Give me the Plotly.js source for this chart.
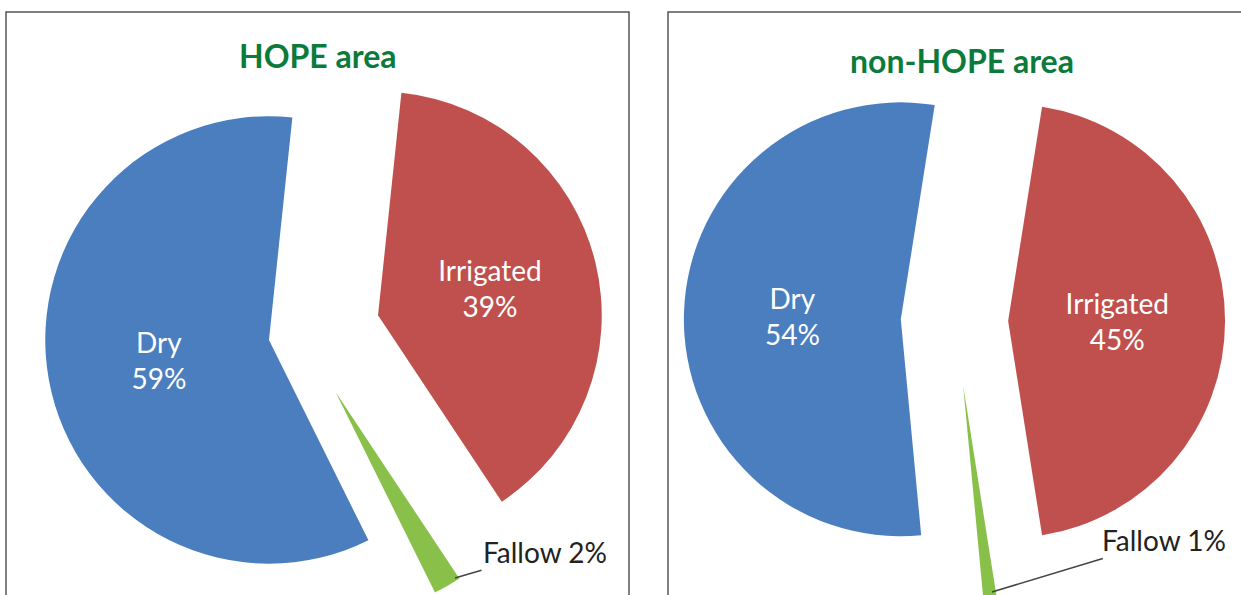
<!DOCTYPE html>
<html>
<head>
<meta charset="utf-8">
<script src="https://cdn.plot.ly/plotly-3.0.1.min.js"></script>
<style>
html,body{margin:0;padding:0;overflow:hidden;background:#fff;}
#chart{width:1241px;height:680px;}
</style>
</head>
<body>
<div id="chart"></div>
<script>
// Data
var categories = ["Irrigated", "Fallow", "Dry"];
var hopeValues = [39, 2, 59];
var nonHopeValues = [45, 1, 54];
var panelTitles = ["HOPE area", "non-HOPE area"];
var sliceColors = ["#c0504d", "#88c04a", "#4a7ebf"];

var W = 1241, H = 680;
function px(x){ return x / W; }
function py(y){ return 1 - y / H; }
var FONT = 'Lato, "Open Sans", sans-serif';

var tmpl = ['%{label}<br>%{percent:.0%}', '', '%{label}<br>%{percent:.0%}'];

function pieTrace(values, domain, rotation, pull){
  return {
    type: 'pie',
    labels: categories,
    values: values,
    sort: false,
    direction: 'clockwise',
    rotation: rotation,
    pull: pull,
    domain: domain,
    marker: {colors: sliceColors, line: {width: 0}},
    texttemplate: tmpl,
    textposition: ['inside', 'none', 'inside'],
    insidetextorientation: 'horizontal',
    insidetextfont: {family: FONT, size: 28, color: '#ffffff'},
    hoverinfo: 'none',
    showlegend: false
  };
}

var data = [
  pieTrace(hopeValues, {x: [0, px(604)], y: [py(638), py(30)]}, 6, [0.35, 0.3, 0.15]),
  pieTrace(nonHopeValues, {x: [px(673), px(1237)], y: [py(603), py(39)]}, 9, [0.245, 0.3, 0.25])
];

function fallowLabel(values, hx, hy, tx, ty){
  var total = values.reduce(function(a, b){ return a + b; }, 0);
  var pct = Math.round(values[1] / total * 100);
  return {
    text: categories[1] + ' ' + pct + '%', xref: 'paper', yref: 'paper',
    x: px(hx), y: py(hy), ax: tx - hx, ay: ty - hy,
    xanchor: 'center', yanchor: 'middle',
    showarrow: true, arrowhead: 0, arrowwidth: 1.6, arrowcolor: '#444444', standoff: 0,
    font: {family: FONT, size: 28, color: '#222222'}
  };
}

var layout = {
  width: W, height: H,
  margin: {l: 0, r: 0, t: 0, b: 0},
  paper_bgcolor: '#ffffff',
  showlegend: false,
  shapes: [
    {type: 'rect', xref: 'paper', yref: 'paper', x0: px(6), x1: px(629), y0: py(670), y1: py(12),
     line: {color: '#555555', width: 1.5}},
    {type: 'rect', xref: 'paper', yref: 'paper', x0: px(668), x1: px(1260), y0: py(670), y1: py(12),
     line: {color: '#555555', width: 1.5}}
  ],
  annotations: [
    {text: '<b>' + panelTitles[0] + '</b>', xref: 'paper', yref: 'paper', x: px(318), y: py(55),
     xanchor: 'center', yanchor: 'middle',
     showarrow: false, font: {family: FONT, size: 32, color: '#0b7a3a'}},
    {text: '<b>' + panelTitles[1] + '</b>', xref: 'paper', yref: 'paper', x: px(962), y: py(60),
     xanchor: 'center', yanchor: 'middle',
     showarrow: false, font: {family: FONT, size: 32, color: '#0b7a3a'}},
    fallowLabel(hopeValues, 455, 578, 545, 552),
    fallowLabel(nonHopeValues, 992, 592, 1164, 540)
  ]
};

Plotly.newPlot('chart', data, layout, {staticPlot: true, displayModeBar: false});
</script>
</body>
</html>
